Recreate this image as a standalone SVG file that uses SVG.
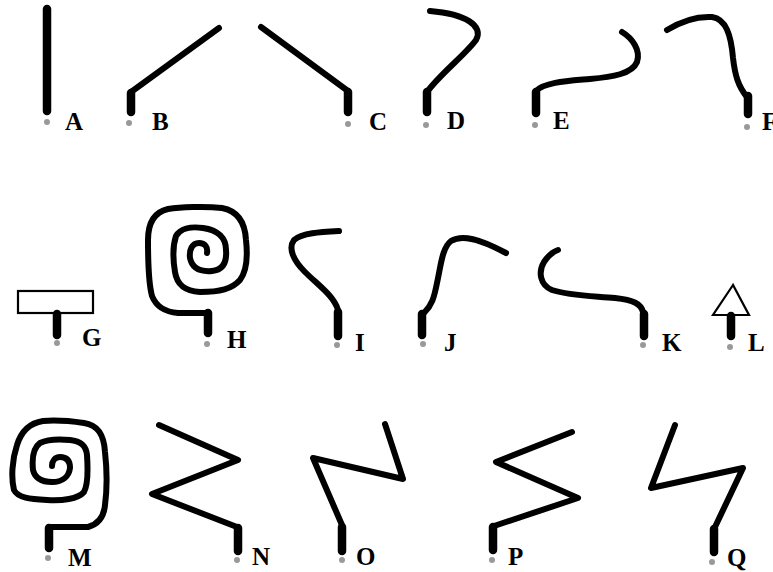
<svg xmlns="http://www.w3.org/2000/svg" width="773" height="572" viewBox="0 0 773 572">
<style>
.ln{fill:none;stroke:#000;stroke-width:6;stroke-linecap:round;stroke-linejoin:round}
.st{fill:none;stroke:#000;stroke-width:8.5;stroke-linecap:round}
.ol{fill:#fff;stroke:#000;stroke-width:2.2}
.dot{fill:#999}
.lb{font-family:"Liberation Serif","DejaVu Serif",serif;font-weight:bold;font-size:25px;fill:#000}
</style>
<rect width="773" height="572" fill="#fff"/>
<g id="A">
<line class="st" x1="47" y1="9" x2="47" y2="111"/>
<circle class="dot" cx="47" cy="122" r="3"/>
<text class="lb" x="65" y="130">A</text>
</g>
<g id="B">
<polyline class="ln" points="219,28 131,92"/>
<line class="st" x1="131" y1="93" x2="131" y2="112"/>
<circle class="dot" cx="129" cy="123" r="3"/>
<text class="lb" x="152" y="130">B</text>
</g>
<g id="C">
<polyline class="ln" points="261,27 348,91"/>
<line class="st" x1="348" y1="92" x2="348" y2="112"/>
<circle class="dot" cx="348" cy="124" r="3"/>
<text class="lb" x="369" y="130">C</text>
</g>
<g id="D">
<path class="ln" d="M427,92 C440,74 466,54 476,40 C484,26 466,14 430,11"/>
<line class="st" x1="427" y1="92" x2="427" y2="112"/>
<circle class="dot" cx="426" cy="125" r="3"/>
<text class="lb" x="447" y="129">D</text>
</g>
<g id="E">
<path class="ln" d="M536,91 C545,82 568,81 590,79 C612,77 632,74 637,62 C641,50 632,38 622,32"/>
<line class="st" x1="536" y1="92" x2="536" y2="113"/>
<circle class="dot" cx="535" cy="125" r="3"/>
<text class="lb" x="553" y="129">E</text>
</g>
<g id="F">
<path class="ln" d="M667,30 C680,22 695,16 712,17 C726,19 731,35 733,58 C735,75 738,86 747,97"/>
<line class="st" x1="748" y1="96" x2="748" y2="114"/>
<circle class="dot" cx="747" cy="127" r="3"/>
<text class="lb" x="762" y="130">F</text>
</g>
<g id="G">
<rect class="ol" x="18" y="291" width="75" height="22"/>
<line class="st" x1="57" y1="314" x2="57" y2="335"/>
<circle class="dot" cx="57" cy="343" r="3"/>
<text class="lb" x="82" y="346">G</text>
</g>
<g id="H">
<path class="ln" d="M208,313 L178,313 C165,312 156,306 152,296 C149,285 148,260 148,240 C148,222 155,212 168,209 C180,207 205,206 222,208 C238,211 245,222 246,240 C248,258 246,272 240,280 C232,289 220,292 200,292 C185,291 177,285 175,272 C173,260 173,245 176,236 C180,229 190,226 203,228 C218,230 226,238 226,250 C227,262 223,270 212,271 C200,272 192,268 190,258 C189,250 192,243 199,243 C205,243 208,247 207,253"/>
<line class="st" x1="208" y1="313" x2="208" y2="333"/>
<circle class="dot" cx="207" cy="344" r="3"/>
<text class="lb" x="227" y="348">H</text>
</g>
<g id="I">
<path class="ln" d="M338,310 C334,296 318,285 305,272 C293,260 288,248 294,240 C302,233 320,232 339,231"/>
<line class="st" x1="338" y1="312" x2="338" y2="336"/>
<circle class="dot" cx="337" cy="345" r="3"/>
<text class="lb" x="355" y="351">I</text>
</g>
<g id="J">
<path class="ln" d="M424,313 C432,305 434,298 437,283 C441,265 442,248 451,241 C462,234 480,239 506,253"/>
<line class="st" x1="422" y1="314" x2="422" y2="335"/>
<circle class="dot" cx="423" cy="344" r="3"/>
<text class="lb" x="444" y="351">J</text>
</g>
<g id="K">
<path class="ln" d="M643,312 C641,304 634,300 615,298 C595,296 570,296 552,290 C540,285 538,272 544,262 C548,256 552,252 558,250"/>
<line class="st" x1="644" y1="314" x2="644" y2="336"/>
<circle class="dot" cx="643" cy="345" r="3"/>
<text class="lb" x="662" y="351">K</text>
</g>
<g id="L">
<polygon class="ol" points="733,285 713,315 749,315"/>
<line class="st" x1="731" y1="316" x2="731" y2="336"/>
<circle class="dot" cx="730" cy="347" r="3"/>
<text class="lb" x="748" y="351">L</text>
</g>
<g id="M">
<path class="ln" d="M49,527 L88,527 C99,524 104,516 105,505 C107,490 107,470 105,452 C104,435 98,425 84,423 C70,421 55,420 43,421 C30,423 21,432 17,445 C12,460 11,478 14,490 C18,498 30,499 47,500 C62,501 78,499 84,492 C88,485 88,470 87,455 C86,445 80,441 70,440 C60,439 48,439 40,443 C33,448 32,460 33,470 C35,478 42,482 52,482 C63,482 69,476 70,468 C70,460 66,457 60,457 C55,457 52,461 52,466"/>
<line class="st" x1="49" y1="528" x2="49" y2="548"/>
<circle class="dot" cx="48" cy="558" r="3"/>
<text class="lb" x="68" y="566">M</text>
</g>
<g id="N">
<polyline class="ln" points="159,425 238,460 152,494 237,527"/>
<line class="st" x1="238" y1="528" x2="238" y2="551"/>
<circle class="dot" cx="237" cy="560" r="3"/>
<text class="lb" x="252" y="565">N</text>
</g>
<g id="O">
<polyline class="ln" points="385,424 403,479 313,458 342,525"/>
<line class="st" x1="342" y1="527" x2="342" y2="551"/>
<circle class="dot" cx="342" cy="560" r="3"/>
<text class="lb" x="356" y="565">O</text>
</g>
<g id="P">
<polyline class="ln" points="572,432 496,462 578,498 494,526"/>
<line class="st" x1="493" y1="527" x2="493" y2="550"/>
<circle class="dot" cx="492" cy="560" r="3"/>
<text class="lb" x="508" y="565">P</text>
</g>
<g id="Q">
<polyline class="ln" points="675,425 651,488 743,468 715,527"/>
<line class="st" x1="714" y1="529" x2="714" y2="552"/>
<circle class="dot" cx="712" cy="562" r="3"/>
<text class="lb" x="727" y="566">Q</text>
</g>
</svg>
